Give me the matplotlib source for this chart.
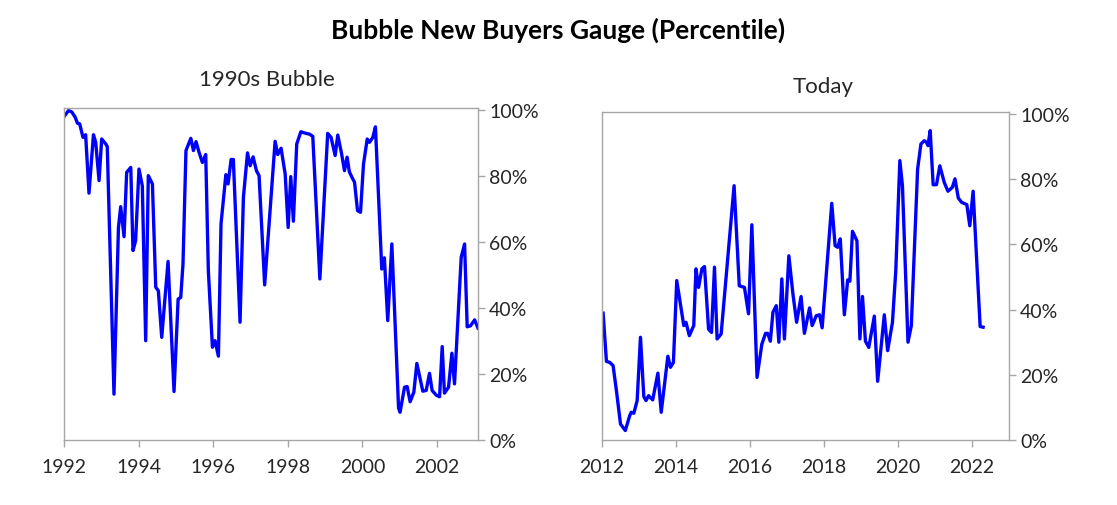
import matplotlib
matplotlib.use("Agg")
import matplotlib.pyplot as plt
from matplotlib.ticker import PercentFormatter

# ---- data ----
bubble_years = [
    1992.00, 1992.12, 1992.21, 1992.30, 1992.36, 1992.42, 1992.51, 1992.58, 1992.67, 1992.79,
    1992.85, 1992.94, 1993.01, 1993.12, 1993.16, 1993.34, 1993.46, 1993.52, 1993.61, 1993.68,
    1993.79, 1993.85, 1993.92, 1994.01, 1994.10, 1994.19, 1994.26, 1994.37, 1994.46, 1994.53,
    1994.62, 1994.79, 1994.95, 1995.06, 1995.13, 1995.19, 1995.27, 1995.40, 1995.47, 1995.54,
    1995.62, 1995.71, 1995.80, 1995.87, 1995.98, 1996.05, 1996.14, 1996.21, 1996.34, 1996.40,
    1996.48, 1996.54, 1996.72, 1996.81, 1996.92, 1996.99, 1997.07, 1997.16, 1997.23, 1997.38,
    1997.66, 1997.73, 1997.82, 1997.93, 1998.01, 1998.08, 1998.15, 1998.24, 1998.35, 1998.49,
    1998.58, 1998.67, 1998.86, 1999.07, 1999.16, 1999.27, 1999.34, 1999.44, 1999.52, 1999.59,
    1999.65, 1999.72, 1999.79, 1999.87, 1999.95, 2000.03, 2000.13, 2000.19, 2000.28, 2000.35,
    2000.52, 2000.59, 2000.68, 2000.79, 2000.97, 2001.01, 2001.13, 2001.20, 2001.28, 2001.38,
    2001.46, 2001.62, 2001.71, 2001.80, 2001.87, 2001.98, 2002.07, 2002.14, 2002.20, 2002.31,
    2002.40, 2002.47, 2002.65, 2002.74, 2002.81, 2002.90, 2003.01, 2003.10,
]
bubble_pct = [
    98.0, 99.8, 99.4, 97.8, 96.0, 95.8, 91.7, 92.5, 74.8, 92.5,
    90.2, 78.6, 91.2, 89.7, 88.9, 13.9, 64.4, 70.7, 61.6, 81.1,
    82.6, 57.4, 60.4, 82.1, 77.0, 30.1, 80.1, 77.6, 46.3, 45.2,
    31.1, 54.1, 14.7, 42.7, 43.2, 53.3, 87.7, 91.4, 87.7, 90.4,
    87.2, 84.1, 86.5, 51.3, 28.1, 30.1, 25.4, 65.5, 80.4, 77.6,
    85.0, 85.0, 35.7, 73.5, 87.0, 83.1, 85.8, 81.6, 80.1, 47.0,
    90.5, 86.5, 88.4, 80.6, 64.4, 79.8, 66.3, 89.7, 93.4, 92.9,
    92.7, 92.0, 48.8, 92.9, 91.7, 86.2, 92.4, 86.9, 81.6, 85.7,
    81.3, 79.6, 78.1, 69.5, 69.0, 83.6, 91.2, 90.2, 91.7, 94.9,
    51.8, 55.2, 36.2, 59.4, 9.7, 8.4, 16.0, 16.2, 11.6, 14.5,
    23.2, 14.8, 15.0, 20.2, 15.0, 13.6, 13.1, 28.3, 14.2, 16.0,
    26.3, 17.0, 55.4, 59.4, 34.3, 34.6, 36.4, 33.9,
]

today_years = [
    2012.03, 2012.12, 2012.21, 2012.30, 2012.39, 2012.50, 2012.63, 2012.75, 2012.79, 2012.86,
    2012.95, 2013.04, 2013.13, 2013.19, 2013.26, 2013.37, 2013.51, 2013.60, 2013.78, 2013.85,
    2013.93, 2014.02, 2014.21, 2014.27, 2014.36, 2014.48, 2014.54, 2014.61, 2014.70, 2014.77,
    2014.88, 2014.96, 2015.04, 2015.11, 2015.22, 2015.57, 2015.71, 2015.85, 2015.96, 2016.05,
    2016.19, 2016.32, 2016.42, 2016.48, 2016.55, 2016.62, 2016.71, 2016.78, 2016.86, 2016.93,
    2017.05, 2017.16, 2017.26, 2017.38, 2017.47, 2017.61, 2017.68, 2017.79, 2017.88, 2017.95,
    2018.21, 2018.30, 2018.37, 2018.44, 2018.55, 2018.64, 2018.70, 2018.77, 2018.89, 2018.97,
    2019.04, 2019.12, 2019.21, 2019.36, 2019.45, 2019.63, 2019.72, 2019.85, 2019.94, 2020.05,
    2020.12, 2020.27, 2020.36, 2020.53, 2020.62, 2020.71, 2020.77, 2020.81, 2020.87, 2020.95,
    2021.04, 2021.13, 2021.25, 2021.35, 2021.47, 2021.54, 2021.63, 2021.72, 2021.86, 2021.94,
    2022.03, 2022.22, 2022.30,
]
today_pct = [
    38.9, 24.1, 23.8, 22.8, 15.1, 4.9, 2.9, 7.5, 8.5, 8.2,
    12.1, 31.5, 13.3, 12.1, 13.6, 12.3, 20.5, 8.5, 25.7, 22.3,
    23.8, 48.9, 35.1, 36.1, 32.0, 35.1, 52.5, 46.8, 52.5, 53.2,
    34.0, 33.0, 53.0, 31.0, 32.5, 78.0, 47.3, 46.8, 38.7, 66.0,
    19.2, 29.4, 32.7, 32.7, 30.3, 39.2, 41.2, 30.0, 49.4, 31.0,
    56.5, 44.8, 36.1, 44.0, 32.7, 40.5, 35.1, 38.1, 38.4, 34.4,
    72.6, 59.6, 59.1, 61.7, 38.4, 49.1, 48.7, 64.0, 61.1, 31.0,
    44.0, 30.3, 28.4, 38.0, 18.0, 38.4, 27.4, 36.1, 51.9, 85.7,
    78.0, 30.0, 35.1, 83.1, 90.8, 91.8, 91.3, 90.3, 94.9, 78.3,
    78.3, 84.1, 79.0, 76.3, 77.5, 80.1, 74.2, 72.9, 72.2, 65.7,
    76.3, 34.8, 34.6,
]

bubble_ticks = [1992, 1994, 1996, 1998, 2000, 2002]
today_ticks = [2012, 2014, 2016, 2018, 2020, 2022]
pct_ticks = [0, 20, 40, 60, 80, 100]

main_title = "Bubble New Buyers Gauge (Percentile)"
left_title = "1990s Bubble"
right_title = "Today"

# ---- style ----
plt.rcParams['font.family'] = ['Lato', 'DejaVu Sans']
W, H = 1117, 506
fig = plt.figure(figsize=(W / 100, H / 100), dpi=100)

spine_col = "#a6a6a6"
text_col = "#262626"
line_col = "#0000ff"


def make_axes(rect, years, pct, xlim, xticks):
    ax = fig.add_axes(rect)
    ax.plot(years, pct, color=line_col, lw=2.4, solid_joinstyle='round')
    ax.set_xlim(*xlim)
    ax.set_ylim(0, 100.6)
    ax.set_xticks(xticks)
    ax.set_xticklabels([str(t) for t in xticks])
    ax.set_yticks(pct_ticks)
    ax.yaxis.set_major_formatter(PercentFormatter(decimals=0))
    ax.yaxis.tick_right()
    for s in ax.spines.values():
        s.set_color(spine_col)
        s.set_linewidth(1.0)
    ax.tick_params(axis='both', colors=spine_col, labelcolor=text_col,
                   labelsize=14, length=5, width=1.0, direction='out')
    ax.tick_params(axis='x', pad=8)
    ax.tick_params(axis='y', pad=3)
    return ax


ax1 = make_axes([64 / W, 1 - 441 / H, (478 - 64) / W, (441 - 109) / H],
                bubble_years, bubble_pct, (1992, 2003.1), bubble_ticks)
ax2 = make_axes([602 / W, 1 - 441 / H, (1009 - 602) / W, (441 - 113) / H],
                today_years, today_pct, (2012, 2023), today_ticks)

fig.text(558 / W, 1 - 30 / H, main_title, ha='center', va='center',
         fontsize=19, fontweight='bold', color='black')
fig.text(267 / W, 1 - 80 / H, left_title, ha='center', va='center',
         fontsize=16, color=text_col)
fig.text(823 / W, 1 - 87 / H, right_title, ha='center', va='center',
         fontsize=16, color=text_col)

fig.savefig("out.png", dpi=100)
